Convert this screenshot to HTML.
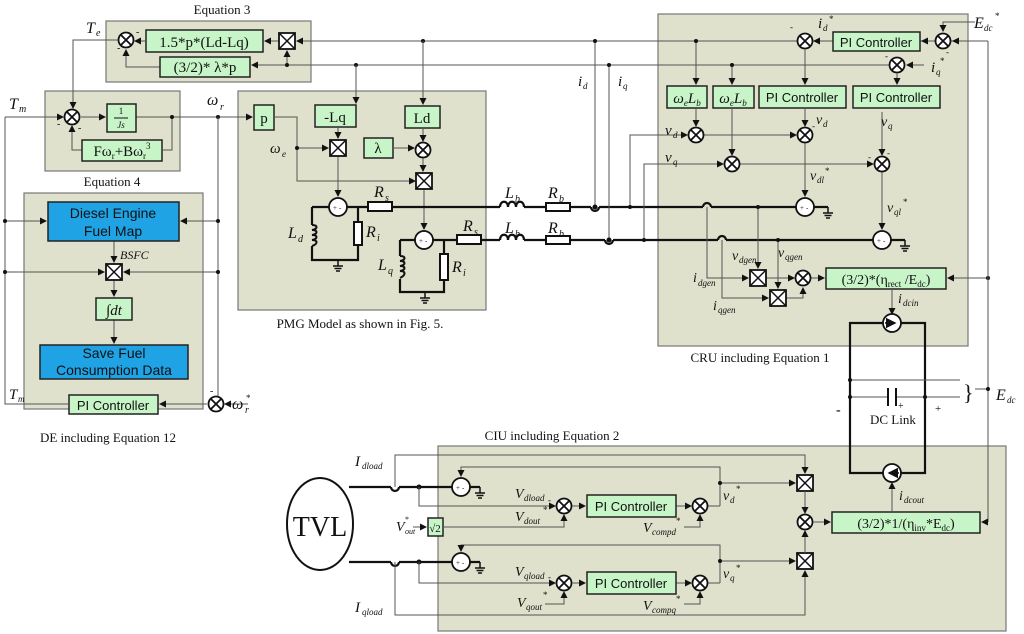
<!DOCTYPE html>
<html><head><meta charset="utf-8"><style>
html,body{margin:0;padding:0;background:#fff}
svg{display:block}
text{font-family:"Liberation Serif",serif;fill:#111}
.s{font-family:"Liberation Sans",sans-serif}
.i{font-style:italic}
.pn{fill:#dfe1cc;stroke:#777;stroke-width:1.2}
.bx{fill:#c8f5c8;stroke:#222;stroke-width:1.5}
.ln{stroke:#555;stroke-width:1;fill:none}
.hv{stroke:#111;stroke-width:2.2;fill:none}
.c{fill:#fff;stroke:#111;stroke-width:1.8}
</style></head><body>
<svg width="1024" height="634" viewBox="0 0 1024 634" xmlns="http://www.w3.org/2000/svg">
<defs>
<marker id="a" markerWidth="7" markerHeight="7" refX="6" refY="3.5" orient="auto"><path d="M0,0L7,3.5L0,7z" fill="#111"/></marker>
<g id="sum"><circle r="7.5" class="c"/><path d="M-5.3,-5.3L5.3,5.3M-5.3,5.3L5.3,-5.3" stroke="#111" stroke-width="1.8"/></g>
<g id="mul"><rect x="-8" y="-8" width="16" height="16" fill="#fff" stroke="#111" stroke-width="1.8"/><path d="M-8,-8L8,8M-8,8L8,-8" stroke="#111" stroke-width="1.5"/></g>
<g id="vs"><circle r="9" class="c"/><text x="-5" y="3" font-size="7">+</text><text x="1" y="3" font-size="7">-</text></g>
<g id="gnd"><path d="M0,0v6M-5,6h10M-3.5,8.5h7M-2,11h4" stroke="#111" stroke-width="1.5"/></g>
</defs>

<!-- panels -->
<rect class="pn" x="106" y="21" width="205" height="61"/>
<rect class="pn" x="45" y="91" width="135" height="80"/>
<rect class="pn" x="24" y="193" width="179" height="216"/>
<rect class="pn" x="238" y="91" width="248" height="219"/>
<rect class="pn" x="658" y="14" width="310" height="332"/>
<rect class="pn" x="438" y="446" width="568" height="185"/>
<text x="222" y="14" font-size="13" text-anchor="middle">Equation 3</text>
<text x="112" y="186" font-size="13" text-anchor="middle">Equation 4</text>
<text x="108" y="442" font-size="13" text-anchor="middle">DE including Equation 12</text>
<text x="360" y="328" font-size="13" text-anchor="middle">PMG Model as shown in Fig. 5.</text>
<text x="760" y="362" font-size="13" text-anchor="middle">CRU including Equation 1</text>
<text x="552" y="440" font-size="13" text-anchor="middle">CIU including Equation 2</text>

<!-- Eq3 -->
<path class="ln" d="M960,41H297" marker-end="url(#a)"/>
<path class="ln" d="M895,65H252" marker-end="url(#a)"/>
<path class="ln" d="M279,41H265" marker-end="url(#a)"/>
<path class="ln" d="M287,65V51" marker-end="url(#a)"/>
<path class="ln" d="M145,41H135" marker-end="url(#a)"/>
<path class="ln" d="M160,67H126V50" marker-end="url(#a)"/>
<rect class="bx" x="146" y="30" width="117" height="22"/>
<text x="204" y="47" font-size="15" text-anchor="middle">1.5*p*(Ld-Lq)</text>
<rect class="bx" x="160" y="57" width="90" height="20"/>
<text x="205" y="72" font-size="15" text-anchor="middle">(3/2)* λ*p</text>
<use href="#mul" x="287" y="41"/>
<use href="#sum" x="126" y="40"/>
<circle cx="287" cy="65" r="2" fill="#111"/><circle cx="423" cy="41" r="2" fill="#111"/><circle cx="356" cy="65" r="2" fill="#111"/>
<text x="136" y="35" font-size="10">-</text><text x="117" y="51" font-size="10">-</text>
<text x="86" y="33" font-size="16" class="i">T</text><text x="96" y="36" font-size="10" class="i">e</text>

<!-- Eq4 -->
<path class="ln" d="M118,40H73V108" marker-end="url(#a)"/>
<path class="ln" d="M5,117H63" marker-end="url(#a)"/>
<path class="ln" d="M81,117H105" marker-end="url(#a)"/>
<path class="ln" d="M136,117H252" marker-end="url(#a)"/>
<path class="ln" d="M172,117V150H163"/>
<path class="ln" d="M82,150H72V126" marker-end="url(#a)"/>
<use href="#sum" x="72" y="117"/>
<rect class="bx" x="107" y="104" width="29" height="28"/>
<text x="121" y="114" font-size="9" text-anchor="middle">1</text><path d="M114,118h14" stroke="#111"/><text x="121" y="128" font-size="9" class="i" text-anchor="middle">Js</text>
<rect class="bx" x="82" y="140" width="80" height="21"/>
<text x="122" y="156" font-size="15" text-anchor="middle">Fω<tspan font-size="9" dy="3">r</tspan><tspan dy="-3">+Bω</tspan><tspan font-size="9" dy="3">r</tspan><tspan font-size="9" dy="-10">3</tspan></text>
<circle cx="172" cy="117" r="2" fill="#111"/><circle cx="218" cy="117" r="2" fill="#111"/>
<text x="9" y="109" font-size="16" class="i">T</text><text x="19" y="112" font-size="10" class="i">m</text>
<text x="57" y="127" font-size="10">-</text><text x="78" y="131" font-size="10">-</text>
<text x="207" y="105" font-size="16" class="i">ω</text><text x="220" y="110" font-size="10" class="i">r</text>

<!-- DE -->
<path class="ln" d="M5,117V404H68" />
<path class="ln" d="M218,117V396"/>
<path class="ln" d="M5,221H46" marker-end="url(#a)"/>
<path class="ln" d="M218,221H181" marker-end="url(#a)"/>
<path class="ln" d="M5,272H104" marker-end="url(#a)"/>
<path class="ln" d="M218,272H124" marker-end="url(#a)"/>
<path class="ln" d="M114,241V262" marker-end="url(#a)"/>
<path class="ln" d="M114,280V296" marker-end="url(#a)"/>
<path class="ln" d="M114,320V343" marker-end="url(#a)"/>
<path class="ln" d="M207,404H160" marker-end="url(#a)"/>
<path class="ln" d="M248,404H225" marker-end="url(#a)"/>
<circle cx="5" cy="221" r="2" fill="#111"/><circle cx="218" cy="221" r="2" fill="#111"/><circle cx="5" cy="272" r="2" fill="#111"/><circle cx="218" cy="272" r="2" fill="#111"/>
<rect x="48" y="202" width="131" height="39" fill="#1fa3e4" stroke="#222" stroke-width="1.5"/>
<text x="113" y="218" font-size="14" class="s" text-anchor="middle">Diesel Engine</text>
<text x="113" y="236" font-size="14" class="s" text-anchor="middle">Fuel Map</text>
<text x="120" y="259" font-size="12" class="i">BSFC</text>
<use href="#mul" x="114" y="272"/>
<rect class="bx" x="96" y="298" width="36" height="22"/>
<text x="114" y="315" font-size="15" text-anchor="middle">∫<tspan class="i">dt</tspan></text>
<rect x="40" y="345" width="148" height="34" fill="#1fa3e4" stroke="#222" stroke-width="1.5"/>
<text x="114" y="358" font-size="14" class="s" text-anchor="middle">Save Fuel</text>
<text x="114" y="375" font-size="14" class="s" text-anchor="middle">Consumption Data</text>
<rect class="bx" x="69" y="395" width="89" height="19"/>
<text x="113" y="410" font-size="13" class="s" text-anchor="middle">PI Controller</text>
<use href="#sum" x="216" y="404"/>
<text x="210" y="394" font-size="10">-</text>
<text x="9" y="399" font-size="15" class="i">T</text><text x="18" y="402" font-size="9" class="i">m</text>
<text x="232" y="409" font-size="16" class="i">ω</text><text x="245" y="413" font-size="10" class="i">r</text><text x="246" y="401" font-size="9">*</text>

<!-- PMG -->
<rect class="bx" x="254" y="105" width="20" height="25"/>
<text x="264" y="123" font-size="15" text-anchor="middle">p</text>
<path class="ln" d="M274,117H297V181H415" marker-end="url(#a)"/>
<path class="ln" d="M297,148H328" marker-end="url(#a)"/>
<circle cx="297" cy="148" r="2" fill="#111"/>
<text x="270" y="153" font-size="15" class="i">ω</text><text x="282" y="157" font-size="9" class="i">e</text>
<path class="ln" d="M356,65V103" marker-end="url(#a)"/>
<path class="ln" d="M423,41V104" marker-end="url(#a)"/>
<rect class="bx" x="315" y="105" width="41" height="22"/>
<text x="335" y="122" font-size="15" text-anchor="middle">-Lq</text>
<rect class="bx" x="405" y="106" width="35" height="22"/>
<text x="422" y="123" font-size="15" text-anchor="middle">Ld</text>
<rect class="bx" x="364" y="138" width="29" height="20"/>
<text x="378" y="153" font-size="15" text-anchor="middle">λ</text>
<path class="ln" d="M338,127V138" marker-end="url(#a)"/>
<path class="ln" d="M423,128V141" marker-end="url(#a)"/>
<path class="ln" d="M393,148H414" marker-end="url(#a)"/>
<path class="ln" d="M423,158V171" marker-end="url(#a)"/>
<path class="ln" d="M338,156V196" marker-end="url(#a)"/>
<path class="ln" d="M424,189V229" marker-end="url(#a)"/>
<use href="#mul" x="338" y="148"/>
<use href="#sum" x="423" y="150"/>
<use href="#mul" x="424" y="181"/>
<!-- circuit d -->
<path class="hv" d="M312,207H330M347,207H368M392,207H500M312,207V225M312,246V260H358V246M358,225V207"/>
<path d="M312,225c6,0 6,4 0,5c6,0 6,4 0,5c6,0 6,4 0,5c6,0 6,4 0,6" fill="none" stroke="#111" stroke-width="2"/>
<rect x="354" y="222" width="8" height="23" fill="#fff" stroke="#111" stroke-width="2"/>
<rect x="368" y="202" width="24" height="9" fill="#fff" stroke="#111" stroke-width="2"/>
<use href="#vs" x="338" y="207"/>
<g transform="translate(338,260)"><use href="#gnd"/></g>
<text x="288" y="238" font-size="16" class="i">L</text><text x="298" y="242" font-size="10" class="i">d</text>
<text x="366" y="237" font-size="16" class="i">R</text><text x="377" y="241" font-size="10" class="i">i</text>
<text x="374" y="197" font-size="16" class="i">R</text><text x="385" y="201" font-size="10" class="i">s</text>
<!-- circuit q -->
<path class="hv" d="M400,240H415M433,240H457M481,240H500M400,240V256M400,279V292H444V279M444,256V240"/>
<path d="M400,256c6,0 6,4 0,5c6,0 6,4 0,5c6,0 6,4 0,5c6,0 6,4 0,7" fill="none" stroke="#111" stroke-width="2"/>
<rect x="440" y="254" width="8" height="26" fill="#fff" stroke="#111" stroke-width="2"/>
<rect x="457" y="235" width="24" height="9" fill="#fff" stroke="#111" stroke-width="2"/>
<use href="#vs" x="424" y="240"/>
<g transform="translate(425,292)"><use href="#gnd"/></g>
<text x="378" y="270" font-size="16" class="i">L</text><text x="388" y="274" font-size="10" class="i">q</text>
<text x="452" y="272" font-size="16" class="i">R</text><text x="463" y="276" font-size="10" class="i">i</text>
<text x="463" y="231" font-size="16" class="i">R</text><text x="474" y="235" font-size="10" class="i">s</text>

<!-- Lb Rb lines -->
<path class="hv" d="M500,207c0,-7 8,-7 8,0c0,-7 8,-7 8,0c0,-7 8,-7 8,0M524,207H546M570,207H591M599,207H703M711,207H796"/>
<path class="hv" d="M500,240c0,-7 8,-7 8,0c0,-7 8,-7 8,0c0,-7 8,-7 8,0M524,240H546M570,240H605M613,240H718M726,240H873"/>
<path class="hv" d="M591,207a4,4 0 0 0 8,0M703,207a4,4 0 0 1 8,0M605,240a4,4 0 0 0 8,0M718,240a4,4 0 0 1 8,0"/>
<rect x="546" y="203" width="24" height="8" fill="#fff" stroke="#111" stroke-width="2"/>
<rect x="546" y="236" width="24" height="8" fill="#fff" stroke="#111" stroke-width="2"/>
<text x="505" y="198" font-size="16" class="i">L</text><text x="515" y="202" font-size="10" class="i">b</text>
<text x="548" y="198" font-size="16" class="i">R</text><text x="559" y="202" font-size="10" class="i">b</text>
<text x="505" y="233" font-size="16" class="i">L</text><text x="515" y="237" font-size="10" class="i">b</text>
<text x="548" y="233" font-size="16" class="i">R</text><text x="559" y="237" font-size="10" class="i">b</text>
<path class="ln" d="M595,41V207M609,65V240"/>
<circle cx="595" cy="41" r="2" fill="#111"/><circle cx="609" cy="65" r="2" fill="#111"/>
<circle cx="595" cy="207" r="2.5" fill="#111"/><circle cx="609" cy="240" r="2.5" fill="#111"/>
<text x="578" y="86" font-size="15" class="i">i</text><text x="583" y="89" font-size="9" class="i">d</text>
<text x="618" y="86" font-size="15" class="i">i</text><text x="623" y="89" font-size="9" class="i">q</text>

<!-- CRU -->
<text x="974" y="28" font-size="16" class="i">E</text><text x="984" y="31" font-size="9" class="i">dc</text><text x="995" y="19" font-size="9">*</text>
<path class="ln" d="M975,22H943V31" marker-end="url(#a)"/>
<path class="ln" d="M988,41H953" marker-end="url(#a)"/>
<path class="ln" d="M935,41H922" marker-end="url(#a)"/>
<path class="ln" d="M833,41H814" marker-end="url(#a)"/>
<path class="ln" d="M924,65H907" marker-end="url(#a)"/>
<use href="#sum" x="943" y="41"/>
<rect class="bx" x="833" y="32" width="87" height="19"/>
<text x="876" y="47" font-size="13" class="s" text-anchor="middle">PI Controller</text>
<use href="#sum" x="805" y="41"/>
<use href="#sum" x="897" y="65"/>
<text x="790" y="30" font-size="9">-</text><text x="946" y="55" font-size="9">-</text><text x="885" y="59" font-size="9">-</text>
<text x="818" y="28" font-size="15" class="i">i</text><text x="823" y="31" font-size="9" class="i">d</text><text x="829" y="22" font-size="9">*</text>
<text x="931" y="72" font-size="15" class="i">i</text><text x="936" y="75" font-size="9" class="i">q</text><text x="940" y="64" font-size="9">*</text>
<path class="ln" d="M696,41V84" marker-end="url(#a)"/>
<path class="ln" d="M732,65V84" marker-end="url(#a)"/>
<circle cx="696" cy="41" r="2" fill="#111"/><circle cx="732" cy="65" r="2" fill="#111"/>
<path class="ln" d="M805,49V84" marker-end="url(#a)"/>
<path class="ln" d="M897,73V84" marker-end="url(#a)"/>
<rect class="bx" x="667" y="86" width="40" height="22"/>
<text x="687" y="103" font-size="15" class="i" text-anchor="middle">ω<tspan font-size="9" dy="3">e</tspan><tspan dy="-3">L</tspan><tspan font-size="9" dy="3">b</tspan></text>
<rect class="bx" x="713" y="86" width="41" height="22"/>
<text x="733" y="103" font-size="15" class="i" text-anchor="middle">ω<tspan font-size="9" dy="3">e</tspan><tspan dy="-3">L</tspan><tspan font-size="9" dy="3">b</tspan></text>
<rect class="bx" x="759" y="86" width="87" height="22"/>
<text x="802" y="102" font-size="13" class="s" text-anchor="middle">PI Controller</text>
<rect class="bx" x="853" y="86" width="87" height="22"/>
<text x="896" y="102" font-size="13" class="s" text-anchor="middle">PI Controller</text>
<path class="ln" d="M696,108V126" marker-end="url(#a)"/>
<path class="ln" d="M732,108V155" marker-end="url(#a)"/>
<path class="ln" d="M805,108V126" marker-end="url(#a)"/>
<path class="ln" d="M882,112V155" marker-end="url(#a)"/>
<path class="ln" d="M630,207V135H687" marker-end="url(#a)"/>
<path class="ln" d="M704,135H796" marker-end="url(#a)"/>
<path class="ln" d="M644,240V164H723" marker-end="url(#a)"/>
<path class="ln" d="M740,164H873" marker-end="url(#a)"/>
<path class="ln" d="M805,143V196" marker-end="url(#a)"/>
<path class="ln" d="M882,172V229" marker-end="url(#a)"/>
<circle cx="630" cy="207" r="2" fill="#111"/><circle cx="644" cy="240" r="2" fill="#111"/>
<use href="#sum" x="696" y="135"/><use href="#sum" x="805" y="135"/>
<use href="#sum" x="732" y="164"/><use href="#sum" x="882" y="164"/>
<text x="665" y="135" font-size="15" class="i">v</text><text x="673" y="138" font-size="9" class="i">d</text>
<text x="665" y="162" font-size="15" class="i">v</text><text x="673" y="165" font-size="9" class="i">q</text>
<text x="812" y="129" font-size="9">-</text><text x="816" y="124" font-size="14" class="i">v</text><text x="823" y="127" font-size="9" class="i">d</text>
<text x="881" y="126" font-size="14" class="i">v</text><text x="888" y="129" font-size="9" class="i">q</text>
<text x="868" y="160" font-size="9">-</text><text x="887" y="156" font-size="9">-</text>
<text x="810" y="180" font-size="14" class="i">v</text><text x="817" y="183" font-size="9" class="i">dl</text><text x="825" y="174" font-size="9">*</text>
<text x="887" y="212" font-size="14" class="i">v</text><text x="894" y="215" font-size="9" class="i">ql</text><text x="903" y="205" font-size="9">*</text>
<path class="hv" d="M814,207H828M891,240H905"/>
<use href="#vs" x="805" y="207"/><use href="#vs" x="882" y="240"/>
<g transform="translate(828,207)"><use href="#gnd"/></g>
<g transform="translate(905,240)"><use href="#gnd"/></g>
<!-- power calc -->
<path class="ln" d="M707,207V278H748" marker-end="url(#a)"/>
<path class="ln" d="M722,240V298H768" marker-end="url(#a)"/>
<path class="ln" d="M758,207V268" marker-end="url(#a)"/>
<path class="ln" d="M778,240V288" marker-end="url(#a)"/>
<circle cx="758" cy="207" r="2" fill="#111"/><circle cx="778" cy="240" r="2" fill="#111"/>
<path class="ln" d="M766,278H794" marker-end="url(#a)"/>
<path class="ln" d="M786,298H803V288" marker-end="url(#a)"/>
<path class="ln" d="M811,278H824" marker-end="url(#a)"/>
<use href="#mul" x="758" y="278"/><use href="#mul" x="778" y="298"/>
<use href="#sum" x="803" y="278"/>
<text x="732" y="260" font-size="14" class="i">v</text><text x="739" y="263" font-size="9" class="i">dgen</text>
<text x="778" y="257" font-size="14" class="i">v</text><text x="785" y="260" font-size="9" class="i">qgen</text>
<text x="693" y="282" font-size="14" class="i">i</text><text x="698" y="286" font-size="9" class="i">dgen</text>
<text x="713" y="310" font-size="14" class="i">i</text><text x="718" y="313" font-size="9" class="i">qgen</text>
<rect class="bx" x="826" y="268" width="120" height="21"/>
<text x="886" y="284" font-size="14" text-anchor="middle">(3/2)*(η<tspan font-size="9" dy="3">rect</tspan><tspan dy="-3"> /E</tspan><tspan font-size="9" dy="3">dc</tspan><tspan dy="-3">)</tspan></text>
<path class="ln" d="M988,278H948" marker-end="url(#a)"/>
<circle cx="988" cy="278" r="2" fill="#111"/>
<path class="ln" d="M892,289V314" marker-end="url(#a)"/>
<text x="898" y="303" font-size="14" class="i">i</text><text x="903" y="306" font-size="9" class="i">dcin</text>
<!-- DC link -->
<path class="hv" d="M850,323H925V473H850z"/>
<circle cx="892" cy="323" r="9" class="c"/><path d="M885,323h10" stroke="#111" stroke-width="1.5" marker-end="url(#a)"/>
<circle cx="892" cy="473" r="9" class="c"/><path d="M899,473h-10" stroke="#111" stroke-width="1.5" marker-end="url(#a)"/>
<path d="M850,380H960M850,397H888M896,397H960" stroke="#555" stroke-width="1" fill="none"/>
<path d="M888,388v18M896,388v18" stroke="#111" stroke-width="2"/>
<circle cx="850" cy="380" r="2" fill="#111"/><circle cx="850" cy="397" r="2" fill="#111"/><circle cx="925" cy="397" r="2" fill="#111"/>
<text x="898" y="409" font-size="10">+</text><text x="935" y="412" font-size="11">+</text>
<text x="836" y="414" font-size="14" font-weight="bold">-</text>
<text x="870" y="424" font-size="13">DC Link</text>
<text x="963" y="400" font-size="22">}</text>
<path class="ln" d="M975,389H988M988,41V522"/>
<circle cx="988" cy="389" r="2" fill="#111"/>
<text x="996" y="400" font-size="16" class="i">E</text><text x="1007" y="403" font-size="9" class="i">dc</text>
<path class="ln" d="M988,522H982" marker-end="url(#a)"/>

<!-- CIU -->
<ellipse cx="320" cy="524" rx="33" ry="46" fill="#fff" stroke="#111" stroke-width="2"/>
<text x="320" y="536" font-size="28" text-anchor="middle">TVL</text>
<path class="hv" d="M349,487H391M399,487H452M349,562H391M399,562H452"/>
<path class="hv" d="M391,487a4,4 0 0 0 8,0M391,562a4,4 0 0 0 8,0"/>
<path class="hv" d="M470,487H480M470,562H480"/>
<use href="#vs" x="461" y="487"/><use href="#vs" x="461" y="562"/>
<g transform="translate(480,487)"><use href="#gnd"/></g>
<g transform="translate(480,562)"><use href="#gnd"/></g>
<circle cx="419" cy="487" r="2.5" fill="#111"/><circle cx="419" cy="562" r="2.5" fill="#111"/>
<path class="ln" d="M395,487V455H805V473" marker-end="url(#a)"/>
<path class="ln" d="M395,562V615H805V571" marker-end="url(#a)"/>
<text x="355" y="466" font-size="15" class="i">I</text><text x="362" y="469" font-size="9" class="i">dload</text>
<text x="355" y="612" font-size="15" class="i">I</text><text x="362" y="615" font-size="9" class="i">qload</text>
<path class="ln" d="M419,487V506H555" marker-end="url(#a)"/>
<path class="ln" d="M419,562V583H555" marker-end="url(#a)"/>
<path class="ln" d="M720,506V467H461V476" marker-end="url(#a)"/>
<path class="ln" d="M720,583V545H461V551" marker-end="url(#a)"/>
<path class="ln" d="M720,483H795" marker-end="url(#a)"/>
<path class="ln" d="M720,561H795" marker-end="url(#a)"/>
<circle cx="720" cy="483" r="2" fill="#111"/><circle cx="720" cy="561" r="2" fill="#111"/>
<path class="ln" d="M708,506H720M708,583H720"/>
<use href="#sum" x="564" y="506"/><use href="#sum" x="700" y="506"/>
<use href="#sum" x="564" y="583"/><use href="#sum" x="700" y="583"/>
<path class="ln" d="M572,506H585" marker-end="url(#a)"/><path class="ln" d="M676,506H691" marker-end="url(#a)"/>
<path class="ln" d="M572,583H585" marker-end="url(#a)"/><path class="ln" d="M676,583H691" marker-end="url(#a)"/>
<rect class="bx" x="587" y="495" width="89" height="22"/>
<text x="631" y="511" font-size="13" class="s" text-anchor="middle">PI Controller</text>
<rect class="bx" x="587" y="572" width="89" height="22"/>
<text x="631" y="588" font-size="13" class="s" text-anchor="middle">PI Controller</text>
<rect class="bx" x="428" y="518" width="15" height="18"/>
<text x="435" y="532" font-size="11" text-anchor="middle">√2</text>
<path class="ln" d="M413,527H426" marker-end="url(#a)"/>
<path class="ln" d="M443,527H564V515" marker-end="url(#a)"/>
<path class="ln" d="M684,527H700V515" marker-end="url(#a)"/>
<path class="ln" d="M545,604H564V592" marker-end="url(#a)"/>
<path class="ln" d="M684,604H700V592" marker-end="url(#a)"/>
<text x="396" y="531" font-size="14" class="i">V</text><text x="405" y="534" font-size="8" class="i">out</text><text x="405" y="522" font-size="8">*</text>
<text x="515" y="498" font-size="14" class="i">V</text><text x="524" y="501" font-size="9" class="i">dload</text><text x="548" y="503" font-size="9">-</text>
<text x="515" y="521" font-size="14" class="i">V</text><text x="524" y="524" font-size="9" class="i">dout</text><text x="543" y="513" font-size="9">*</text>
<text x="643" y="532" font-size="14" class="i">V</text><text x="652" y="535" font-size="9" class="i">compd</text><text x="676" y="524" font-size="9">*</text>
<text x="515" y="576" font-size="14" class="i">V</text><text x="524" y="579" font-size="9" class="i">qload</text><text x="548" y="580" font-size="9">-</text>
<text x="517" y="607" font-size="14" class="i">V</text><text x="526" y="610" font-size="9" class="i">qout</text><text x="543" y="598" font-size="9">*</text>
<text x="643" y="610" font-size="14" class="i">V</text><text x="652" y="613" font-size="9" class="i">compq</text><text x="676" y="602" font-size="9">*</text>
<text x="723" y="500" font-size="14" class="i">v</text><text x="730" y="503" font-size="9" class="i">d</text><text x="736" y="492" font-size="9">*</text>
<text x="723" y="578" font-size="14" class="i">v</text><text x="730" y="581" font-size="9" class="i">q</text><text x="736" y="571" font-size="9">*</text>
<use href="#mul" x="805" y="483"/><use href="#mul" x="805" y="561"/>
<use href="#sum" x="805" y="522"/>
<path class="ln" d="M805,491V513" marker-end="url(#a)"/>
<path class="ln" d="M805,553V531" marker-end="url(#a)"/>
<path class="ln" d="M813,522H830" marker-end="url(#a)"/>
<rect class="bx" x="832" y="512" width="148" height="21"/>
<text x="906" y="528" font-size="14" text-anchor="middle">(3/2)*1/(η<tspan font-size="9" dy="3">inv</tspan><tspan dy="-3">*E</tspan><tspan font-size="9" dy="3">dc</tspan><tspan dy="-3">)</tspan></text>
<path class="ln" d="M892,512V483" marker-end="url(#a)"/>
<text x="899" y="500" font-size="14" class="i">i</text><text x="904" y="503" font-size="9" class="i">dcout</text>
</svg>
</body></html>
